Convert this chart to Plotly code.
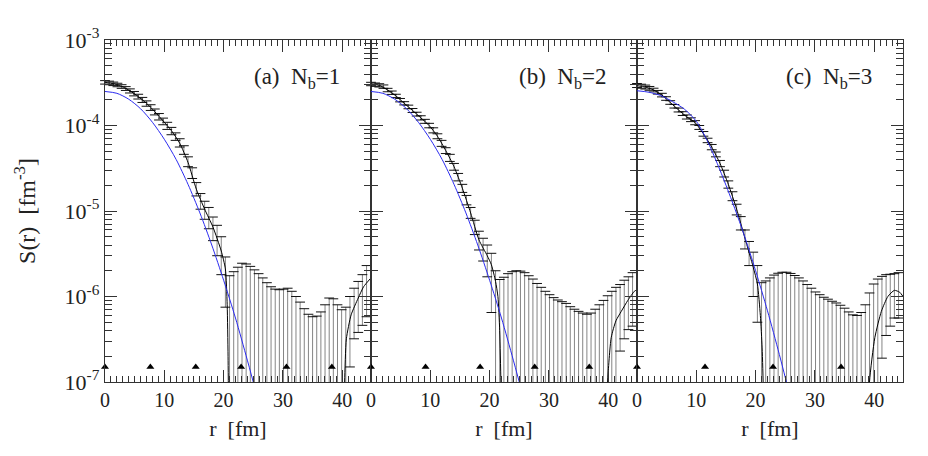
import plotly.graph_objects as go
from plotly.subplots import make_subplots

# radial grid of the measured points (fm)
R = [0.0, 0.7, 1.4, 2.1, 2.8, 3.5, 4.2, 4.9, 5.6, 6.3, 7.0, 7.7, 8.4, 9.1, 9.8, 10.5,
     11.2, 11.9, 12.6, 13.3, 14.0, 14.7, 15.4, 16.1, 16.8, 17.5, 18.2, 18.9, 19.6, 20.3,
     21.0, 21.7, 22.4, 23.1, 23.8, 24.5, 25.2, 25.9, 26.6, 27.3, 28.0, 28.7, 29.4, 30.1,
     30.8, 31.5, 32.2, 32.9, 33.6, 34.3, 35.0, 35.7, 36.4, 37.1, 37.8, 38.5, 39.2, 39.9,
     40.6, 41.3, 42.0, 42.7, 43.4, 44.1]

# upper / lower ends of the error bars (0 = below the plotted range)
hi_a = [3.35e-4, 3.3e-4, 3.22e-4, 3.12e-4, 3.0e-4, 2.85e-4, 2.68e-4, 2.5e-4, 2.32e-4, 2.13e-4,
        1.94e-4, 1.75e-4, 1.56e-4, 1.38e-4, 1.22e-4, 1.09e-4, 9.5e-5, 8.2e-5, 7.0e-5, 5.8e-5,
        4.3e-5, 3.2e-5, 2.15e-5, 1.6e-5, 1.3e-5, 1.1e-5, 8.5e-6, 6.8e-6, 5.0e-6, 2.9e-6,
        1.75e-6, 1.95e-6, 2.2e-6, 2.45e-6, 2.4e-6, 2.25e-6, 2.05e-6, 1.85e-6, 1.65e-6, 1.45e-6,
        1.3e-6, 1.22e-6, 1.2e-6, 1.22e-6, 1.25e-6, 1.15e-6, 1.0e-6, 8.6e-7, 7.2e-7, 6.2e-7,
        5.8e-7, 5.9e-7, 6.6e-7, 8.0e-7, 9.6e-7, 9.4e-7, 8.0e-7, 7.0e-7, 7.5e-7, 1.0e-6,
        1.25e-6, 1.5e-6, 1.8e-6, 2.3e-6]
lo_a = [3.05e-4, 3.0e-4, 2.93e-4, 2.84e-4, 2.72e-4, 2.57e-4, 2.4e-4, 2.22e-4, 2.04e-4, 1.86e-4,
        1.68e-4, 1.5e-4, 1.33e-4, 1.16e-4, 1.02e-4, 9.0e-5, 7.8e-5, 6.7e-5, 5.6e-5, 4.6e-5,
        3.3e-5, 2.4e-5, 1.5e-5, 1.05e-5, 8.0e-6, 6.2e-6, 4.5e-6, 3.0e-6, 1.8e-6, 7.5e-7,
        0, 0, 0, 0, 0, 0, 0, 0, 0, 0, 0, 0, 0, 0, 0, 0, 0, 0, 0, 0, 0, 0, 0, 0, 0, 0, 0, 0, 0,
        1.5e-7, 3.2e-7, 3.8e-7, 4.6e-7, 5.8e-7]

hi_b = [3.2e-4, 3.14e-4, 3.08e-4, 2.98e-4, 2.72e-4, 2.53e-4, 2.32e-4, 2.07e-4, 1.9e-4, 1.73e-4,
        1.58e-4, 1.43e-4, 1.3e-4, 1.18e-4, 1.06e-4, 9.4e-5, 8.0e-5, 6.7e-5, 5.5e-5, 4.6e-5,
        3.6e-5, 2.75e-5, 2.05e-5, 1.52e-5, 1.1e-5, 7.8e-6, 5.8e-6, 4.8e-6, 4.0e-6, 3.2e-6,
        2.0e-6, 1.58e-6, 1.68e-6, 1.85e-6, 1.95e-6, 2.0e-6, 1.98e-6, 1.9e-6, 1.75e-6, 1.6e-6,
        1.42e-6, 1.28e-6, 1.15e-6, 1.05e-6, 9.7e-7, 9.1e-7, 8.7e-7, 8.3e-7, 7.6e-7, 7.1e-7,
        6.7e-7, 6.4e-7, 6.2e-7, 6.4e-7, 7.1e-7, 8.0e-7, 9.0e-7, 1.02e-6, 1.15e-6, 1.28e-6,
        1.38e-6, 1.55e-6, 1.7e-6, 1.9e-6]
lo_b = [2.92e-4, 2.87e-4, 2.82e-4, 2.72e-4, 2.48e-4, 2.31e-4, 2.12e-4, 1.89e-4, 1.74e-4, 1.57e-4,
        1.42e-4, 1.29e-4, 1.16e-4, 1.06e-4, 9.4e-5, 8.2e-5, 7.0e-5, 5.7e-5, 4.7e-5, 3.8e-5,
        3.0e-5, 2.25e-5, 1.65e-5, 1.18e-5, 8.2e-6, 5.3e-6, 3.5e-6, 2.6e-6, 1.7e-6, 6.5e-7,
        0, 0, 0, 0, 0, 0, 0, 0, 0, 0, 0, 0, 0, 0, 0, 0, 0, 0, 0, 0, 0, 0, 0, 0, 0, 0, 0, 0, 0, 0,
        2.3e-7, 3.2e-7, 4.1e-7, 4.5e-7]

hi_c = [3.1e-4, 3.04e-4, 2.97e-4, 2.86e-4, 2.73e-4, 2.57e-4, 2.38e-4, 2.17e-4, 1.95e-4, 1.76e-4,
        1.6e-4, 1.45e-4, 1.33e-4, 1.23e-4, 1.14e-4, 1.0e-4, 8.5e-5, 7.1e-5, 6.0e-5, 4.9e-5,
        3.9e-5, 3.0e-5, 2.25e-5, 1.68e-5, 1.2e-5, 8.6e-6, 6.0e-6, 4.4e-6, 3.3e-6, 2.3e-6,
        1.45e-6, 1.52e-6, 1.65e-6, 1.78e-6, 1.87e-6, 1.92e-6, 1.92e-6, 1.86e-6, 1.76e-6, 1.65e-6,
        1.52e-6, 1.38e-6, 1.25e-6, 1.13e-6, 1.05e-6, 9.8e-7, 9.3e-7, 8.8e-7, 8.4e-7, 7.9e-7,
        7.3e-7, 6.6e-7, 6.1e-7, 6.0e-7, 6.5e-7, 8.0e-7, 1.1e-6, 1.4e-6, 1.6e-6, 1.72e-6,
        1.8e-6, 1.82e-6, 1.85e-6, 1.9e-6]
lo_c = [2.78e-4, 2.73e-4, 2.67e-4, 2.58e-4, 2.47e-4, 2.33e-4, 2.16e-4, 1.97e-4, 1.77e-4, 1.6e-4,
        1.44e-4, 1.31e-4, 1.19e-4, 1.11e-4, 1.02e-4, 9.0e-5, 7.5e-5, 6.3e-5, 5.2e-5, 4.3e-5,
        3.3e-5, 2.5e-5, 1.85e-5, 1.32e-5, 9.0e-6, 6.0e-6, 3.6e-6, 2.3e-6, 1.0e-6, 5.0e-7,
        0, 0, 0, 0, 0, 0, 0, 0, 0, 0, 0, 0, 0, 0, 0, 0, 0, 0, 0, 0, 0, 0, 0, 0, 0, 0, 0, 0, 0,
        1.9e-7, 3.5e-7, 4.5e-7, 5.6e-7, 5.6e-7]

# fitted S(r): inner branch and outer branch (negative in between)
fit_a_r = [0, 1.4, 2.8, 4.2, 5.6, 7.0, 8.4, 9.8, 11.2, 12.6, 14.0, 15.4, 16.8, 18.2, 19.6, 20.3, 20.6, 20.75, 20.85]
fit_a_s = [3.2e-4, 3.08e-4, 2.87e-4, 2.55e-4, 2.18e-4, 1.82e-4, 1.45e-4, 1.13e-4, 8.7e-5, 6.2e-5,
           3.7e-5, 1.8e-5, 1.05e-5, 6.5e-6, 3.4e-6, 2.1e-6, 8e-7, 2e-7, 3e-8]
fit_a_r2 = [40.2, 40.4, 40.7, 41.5, 42.7, 43.6, 44.85]
fit_a_s2 = [2e-8, 1e-7, 3.2e-7, 6.1e-7, 9.6e-7, 1.3e-6, 1.65e-6]

fit_b_r = [0, 1.4, 2.8, 4.2, 5.6, 7.0, 8.4, 9.8, 11.2, 12.6, 14.0, 15.4, 16.8, 18.2, 19.6, 20.3, 21.0, 21.4, 21.7, 21.9, 22.0]
fit_b_s = [3.05e-4, 2.95e-4, 2.6e-4, 2.22e-4, 1.82e-4, 1.5e-4, 1.23e-4, 1.0e-4, 7.5e-5, 5.1e-5,
           3.3e-5, 1.85e-5, 9.5e-6, 4.6e-6, 3.0e-6, 2.35e-6, 1.5e-6, 1.0e-6, 4e-7, 1e-7, 3e-8]
fit_b_r2 = [39.7, 39.9, 40.5, 41.3, 42.2, 43.3, 44.4, 44.85]
fit_b_s2 = [2e-8, 1e-7, 3.3e-7, 5.2e-7, 6.7e-7, 9e-7, 1.15e-6, 1.2e-6]

fit_c_r = [0, 1.4, 2.8, 4.2, 5.6, 7.0, 8.4, 9.8, 11.2, 12.6, 14.0, 15.4, 16.8, 18.2, 19.6, 20.3, 20.8, 21.1, 21.3, 21.4]
fit_c_s = [2.92e-4, 2.82e-4, 2.6e-4, 2.27e-4, 1.86e-4, 1.52e-4, 1.26e-4, 1.08e-4, 8.0e-5, 5.6e-5,
           3.6e-5, 2.05e-5, 1.05e-5, 4.8e-6, 2.2e-6, 1.4e-6, 6e-7, 2.5e-7, 8e-8, 2e-8]
fit_c_r2 = [39.0, 39.2, 40.1, 41.2, 42.3, 43.4, 44.3, 44.85]
fit_c_s2 = [2e-8, 1e-7, 3.3e-7, 6.7e-7, 1.0e-6, 1.18e-6, 1.12e-6, 1.0e-6]

# blue reference curves (panels a and b share one, panel c its own)
blue_r = [0, 2, 4, 6, 8, 10, 12, 14, 16, 18, 20, 22, 24, 26]
blue_ab = [2.5e-4, 2.38e-4, 2.03e-4, 1.57e-4, 1.09e-4, 6.9e-5, 4.0e-5, 2.05e-5, 9.5e-6,
           4.0e-6, 1.55e-6, 5.6e-7, 1.8e-7, 5.5e-8]
blue_c = [2.55e-4, 2.45e-4, 2.24e-4, 1.9e-4, 1.55e-4, 1.12e-4, 6.3e-5, 3.0e-5, 1.32e-5,
          5.4e-6, 2.0e-6, 6.8e-7, 2.1e-7, 6e-8]

# triangle markers along the bottom
tri_a = [0, 7.65, 15.3, 22.95, 30.6, 38.25]
tri_b = [0, 9.2, 18.4, 27.6, 36.8]
tri_c = [0, 11.47, 22.94, 34.41]
tri_y = 1.5e-7

labels = ["(a)  N<sub>b</sub>=1", "(b)  N<sub>b</sub>=2", "(c)  N<sub>b</sub>=3"]

panels = [
    (hi_a, lo_a, fit_a_r, fit_a_s, fit_a_r2, fit_a_s2, blue_ab, tri_a),
    (hi_b, lo_b, fit_b_r, fit_b_s, fit_b_r2, fit_b_s2, blue_ab, tri_b),
    (hi_c, lo_c, fit_c_r, fit_c_s, fit_c_r2, fit_c_s2, blue_c, tri_c),
]

FONT = "Liberation Serif"
AX = "#333333"
TXT = "#222222"

fig = make_subplots(rows=1, cols=3, shared_yaxes=True, horizontal_spacing=0)

for i, (hi, lo, fr, fs, fr2, fs2, blue, tri) in enumerate(panels):
    col = i + 1
    floor = [v if v > 0 else 1e-9 for v in lo]
    fig.add_trace(go.Scatter(
        x=R, y=hi, mode="markers",
        marker=dict(size=1, color="rgba(0,0,0,0)"),
        error_y=dict(type="data", symmetric=False, array=[0] * len(R),
                     arrayminus=[h - f for h, f in zip(hi, floor)],
                     color="#858585", thickness=1, width=0),
        showlegend=False, hoverinfo="skip"), row=1, col=col)
    # caps
    fig.add_trace(go.Scatter(
        x=R, y=hi, mode="markers", cliponaxis=False,
        marker=dict(symbol="line-ew", size=7, line=dict(width=1, color="#111")),
        showlegend=False, hoverinfo="skip"), row=1, col=col)
    lr = [r for r, v in zip(R, lo) if v > 0]
    lv = [v for v in lo if v > 0]
    fig.add_trace(go.Scatter(
        x=lr, y=lv, mode="markers", cliponaxis=False,
        marker=dict(symbol="line-ew", size=7, line=dict(width=1, color="#111")),
        showlegend=False, hoverinfo="skip"), row=1, col=col)
    # fit
    fig.add_trace(go.Scatter(
        x=fr + [None] + fr2, y=fs + [None] + fs2, mode="lines",
        line=dict(color="black", width=1, shape="spline", smoothing=0.6),
        connectgaps=False, showlegend=False, hoverinfo="skip"), row=1, col=col)
    # blue curve
    fig.add_trace(go.Scatter(
        x=blue_r, y=blue, mode="lines",
        line=dict(color="#2b2bf0", width=1, shape="spline", smoothing=0.8),
        showlegend=False, hoverinfo="skip"), row=1, col=col)
    # triangles
    fig.add_trace(go.Scatter(
        x=tri, y=[tri_y] * len(tri), mode="markers", cliponaxis=False,
        marker=dict(symbol="triangle-up", size=7, color="black"),
        showlegend=False, hoverinfo="skip"), row=1, col=col)

    fig.update_xaxes(
        range=[0, 44.85], tickvals=[0, 10, 20, 30, 40], ticks="inside", ticklen=12,
        tickcolor=AX, showline=True, linecolor=AX, linewidth=1.3, mirror="ticks",
        showgrid=False, zeroline=False,
        minor=dict(tickvals=[v for v in range(1, 45) if v % 10], ticks="inside",
                   ticklen=6, tickcolor=AX, showgrid=False),
        tickfont=dict(family=FONT, size=20, color=TXT),
        title=dict(text="r  [fm]", font=dict(family=FONT, size=22, color=TXT), standoff=10),
        row=1, col=col)
    fig.add_annotation(
        text=labels[i], xref="x domain" if i == 0 else "x%d domain" % col,
        yref="y domain", x=0.89, y=0.89, xanchor="right", yanchor="middle",
        showarrow=False, font=dict(family=FONT, size=23, color=TXT))

dec = [1e-7, 1e-6, 1e-5, 1e-4, 1e-3]
minor_y = [m * d for d in dec[:-1] for m in range(2, 10)]
fig.update_yaxes(
    type="log", range=[-7, -3], tickvals=dec,
    ticktext=["10<sup>-7</sup>", "10<sup>-6</sup>", "10<sup>-5</sup>", "10<sup>-4</sup>", "10<sup>-3</sup>"],
    ticks="inside", ticklen=12, tickcolor=AX, showline=True, linecolor=AX, linewidth=1.3,
    mirror="ticks", showgrid=False, zeroline=False,
    minor=dict(tickvals=minor_y, ticks="inside", ticklen=7, tickcolor=AX, showgrid=False),
    tickfont=dict(family=FONT, size=22, color=TXT))
fig.update_yaxes(
    title=dict(text="S(r)  [fm<sup>-3</sup>]", font=dict(family=FONT, size=24, color=TXT), standoff=22),
    row=1, col=1)

fig.update_layout(
    width=928, height=456,
    margin=dict(l=97, r=33, t=32, b=82),
    paper_bgcolor="white", plot_bgcolor="white",
    showlegend=False)

fig.write_html("out.html")
